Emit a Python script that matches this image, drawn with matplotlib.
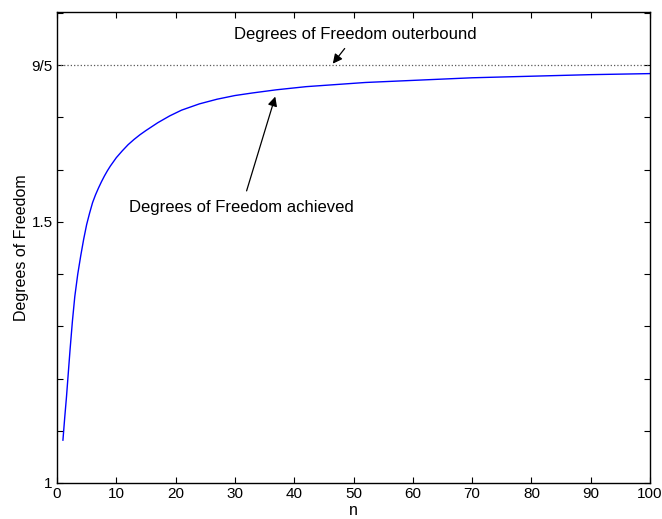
import matplotlib
matplotlib.use("Agg")
import matplotlib.pyplot as plt
import numpy as np

plt.rcParams['font.family'] = ['Liberation Sans', 'DejaVu Sans']

# values
n = [1, 1.3, 1.6, 2.2, 2.6, 3, 3.5, 4, 4.5, 5, 5.5, 6, 6.5, 7, 7.5, 8, 8.5, 9, 9.5, 10,
     11, 12, 13, 14, 15, 17, 19, 21, 24, 27, 30, 33, 37, 42, 47, 52, 60, 70, 80, 90, 100]
dof = [1.082, 1.125, 1.165, 1.255, 1.310, 1.357, 1.400, 1.435, 1.467, 1.495, 1.517,
       1.537, 1.552, 1.565, 1.577, 1.588, 1.598, 1.607, 1.615, 1.623,
       1.636, 1.648, 1.658, 1.667, 1.675, 1.690, 1.703, 1.714, 1.726, 1.735, 1.742,
       1.747, 1.753, 1.759, 1.763, 1.767, 1.771, 1.776, 1.779, 1.782, 1.784]
outer_bound = 9 / 5

x_ticks = list(range(0, 101, 10))
y_ticks = [1.0, 1.1, 1.2, 1.3, 1.4, 1.5, 1.6, 1.7, 1.8, 1.9]
y_tick_labels = ['1', '', '', '', '', '1.5', '', '', '9/5', '']

fig = plt.figure(figsize=(6.62, 5.19), dpi=100)
ax = fig.add_axes([0.0861, 0.0694, 0.8959, 0.9075])

ax.plot(n, dof, color='blue', linewidth=1.0)
ax.axhline(outer_bound, color='0.35', linestyle=':', linewidth=0.9)

ax.set_xlim(0, 100)
ax.set_ylim(1, 1.902)
ax.set_xticks(x_ticks)
ax.set_yticks(y_ticks)
ax.set_yticklabels(y_tick_labels)
ax.tick_params(direction='in', length=4, width=0.8, top=True, right=True,
               labelsize=11, pad=3)
for s in ax.spines.values():
    s.set_linewidth(1.0)

ax.set_xlabel('n', fontsize=11.5, labelpad=1)
ax.set_ylabel('Degrees of Freedom', fontsize=11.5, labelpad=2)

ax.annotate('Degrees of Freedom outerbound', xy=(46.5, 1.803), xytext=(50.3, 1.858),
            ha='center', va='center', fontsize=12,
            arrowprops=dict(arrowstyle='-|>', color='black', lw=0.9,
                            shrinkA=3, shrinkB=0, mutation_scale=14))
ax.annotate('Degrees of Freedom achieved', xy=(36.8, 1.740), xytext=(31.1, 1.527),
            ha='center', va='center', fontsize=12,
            arrowprops=dict(arrowstyle='-|>', color='black', lw=0.9,
                            shrinkA=5, shrinkB=0, mutation_scale=14))

fig.savefig('out.png', dpi=100)
